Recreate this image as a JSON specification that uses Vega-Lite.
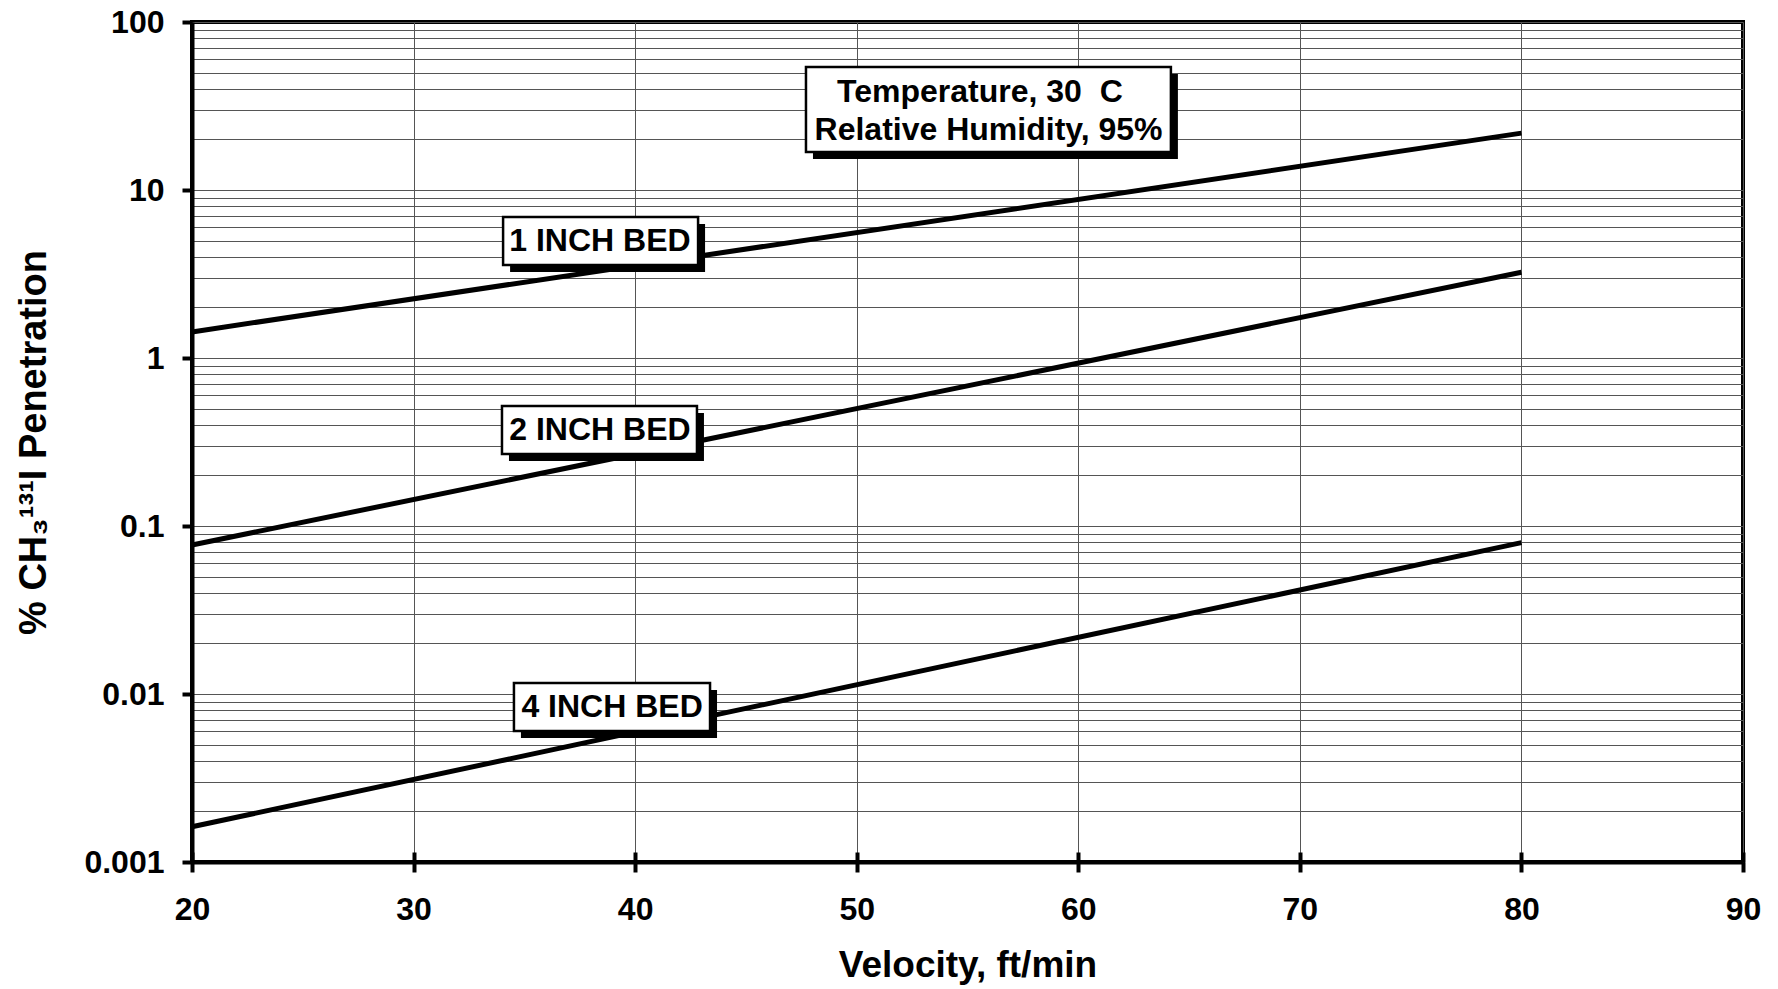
{
  "$schema": "https://vega.github.io/schema/vega-lite/v6.json",
  "width": 1551,
  "height": 840,
  "autosize": "none",
  "padding": {"left": 192, "top": 22, "right": 35, "bottom": 127},
  "background": "white",
  "datasets": {
    "beds": [
      {"bed": "1 INCH BED", "velocity": 20, "penetration": 1.43},
      {"bed": "1 INCH BED", "velocity": 80, "penetration": 21.8},
      {"bed": "2 INCH BED", "velocity": 20, "penetration": 0.0771},
      {"bed": "2 INCH BED", "velocity": 80, "penetration": 3.24},
      {"bed": "4 INCH BED", "velocity": 20, "penetration": 0.00162},
      {"bed": "4 INCH BED", "velocity": 80, "penetration": 0.0796}
    ],
    "boxes": [
      {"box": "1 INCH BED", "x1": 34.04, "x2": 42.84, "y1": 6.908, "y2": 3.578},
      {"box": "2 INCH BED", "x1": 33.99, "x2": 42.79, "y1": 0.518, "y2": 0.2683},
      {"box": "4 INCH BED", "x1": 34.53, "x2": 43.38, "y1": 0.01162, "y2": 0.006022},
      {"box": "conditions", "x1": 47.71, "x2": 64.18, "y1": 53.97, "y2": 16.83}
    ],
    "notes": [
      {"text": "1 INCH BED", "tx": 38.41, "ty": 4.97},
      {"text": "2 INCH BED", "tx": 38.41, "ty": 0.3727},
      {"text": "4 INCH BED", "tx": 38.96, "ty": 0.00837},
      {"text": "Temperature, 30\u00a0\u00a0C", "tx": 55.56, "ty": 38.3},
      {"text": "Relative Humidity, 95%", "tx": 55.95, "ty": 22.76}
    ]
  },
  "layer": [
    {
      "data": {"name": "beds"},
      "mark": {"type": "line", "color": "black", "strokeWidth": 5, "strokeCap": "butt"},
      "encoding": {
        "x": {
          "field": "velocity", "type": "quantitative",
          "scale": {"domain": [20, 90], "nice": false, "zero": false},
          "axis": {
            "title": "Velocity, ft/min",
            "values": [20, 30, 40, 50, 60, 70, 80, 90],
            "grid": true,
            "labelPadding": 22,
            "titlePadding": 22,
            "labelFlush": false,
            "labelOverlap": false
          }
        },
        "y": {
          "field": "penetration", "type": "quantitative",
          "scale": {"type": "log", "domain": [0.001, 100], "nice": false},
          "axis": {
            "title": "% CH₃¹³¹I Penetration",
            "values": [0.001, 0.002, 0.003, 0.004, 0.005, 0.006, 0.007, 0.008, 0.009,
                       0.01, 0.02, 0.03, 0.04, 0.05, 0.06, 0.07, 0.08, 0.09,
                       0.1, 0.2, 0.3, 0.4, 0.5, 0.6, 0.7, 0.8, 0.9,
                       1, 2, 3, 4, 5, 6, 7, 8, 9,
                       10, 20, 30, 40, 50, 60, 70, 80, 90, 100],
            "format": "~g",
            "labelExpr": "abs(log(datum.value)/LN10 - round(log(datum.value)/LN10)) < 1e-6 ? datum.label : ''",
            "tickOpacity": {"condition": {"test": "abs(log(datum.value)/LN10 - round(log(datum.value)/LN10)) < 1e-6", "value": 1}, "value": 0},
            "grid": true,
            "labelPadding": 18,
            "titlePadding": 30,
            "titleFontSize": 38,
            "labelFlush": false,
            "labelOverlap": false,
            "labelBound": false
          }
        },
        "detail": {"field": "bed", "type": "nominal"}
      }
    },
    {
      "data": {"name": "boxes"},
      "mark": {"type": "rect", "fill": "black", "xOffset": 7, "x2Offset": 7, "yOffset": 7, "y2Offset": 7},
      "encoding": {
        "x": {"field": "x1", "type": "quantitative",
          "axis": {"orient": "bottom", "values": [20, 30, 40, 50, 60, 70, 80, 90], "tickSize": -10, "labels": false, "domain": false, "grid": false, "title": null}},
        "x2": {"field": "x2"},
        "y": {"field": "y1", "type": "quantitative", "axis": null},
        "y2": {"field": "y2"}
      }
    },
    {
      "data": {"name": "boxes"},
      "mark": {"type": "rect", "fill": "white", "stroke": "black", "strokeWidth": 2.5},
      "encoding": {
        "x": {"field": "x1", "type": "quantitative", "axis": null},
        "x2": {"field": "x2"},
        "y": {"field": "y1", "type": "quantitative", "axis": null},
        "y2": {"field": "y2"}
      }
    },
    {
      "data": {"name": "notes"},
      "mark": {"type": "text", "font": "Liberation Sans", "fontWeight": "bold", "fontSize": 32, "align": "center", "baseline": "middle", "color": "black"},
      "encoding": {
        "x": {"field": "tx", "type": "quantitative", "axis": null},
        "y": {"field": "ty", "type": "quantitative", "axis": null},
        "text": {"field": "text"}
      }
    }
  ],
  "resolve": {"axis": {"x": "independent", "y": "independent"}},
  "config": {
    "font": "Liberation Sans",
    "view": {"stroke": "black", "strokeWidth": 4},
    "axis": {
      "labelFont": "Liberation Sans",
      "labelFontWeight": "bold",
      "labelFontSize": 32,
      "labelColor": "black",
      "titleFont": "Liberation Sans",
      "titleFontWeight": "bold",
      "titleFontSize": 37,
      "titleColor": "black",
      "domainColor": "black",
      "domainWidth": 4,
      "tickColor": "black",
      "tickWidth": 4,
      "tickSize": 10,
      "gridColor": "#555555",
      "gridWidth": 1,
      "gridOpacity": 1
    }
  }
}
